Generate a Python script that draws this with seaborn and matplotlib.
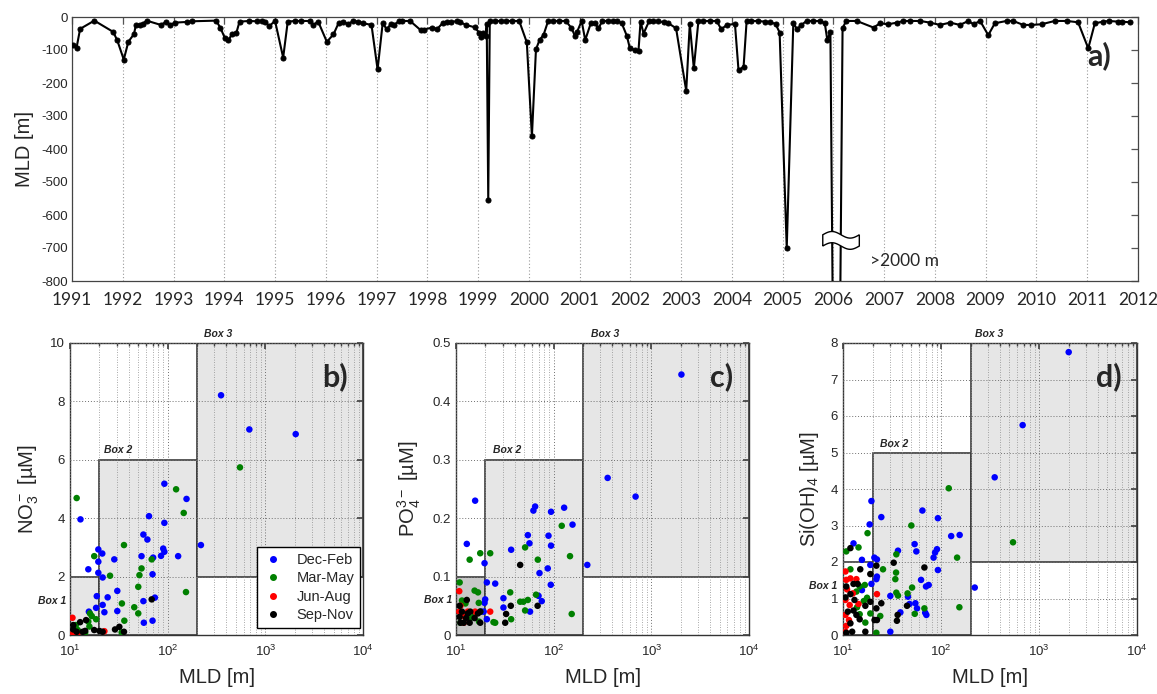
import numpy as np
import pandas as pd
import matplotlib
matplotlib.use("Agg")
import matplotlib.pyplot as plt
import seaborn as sns
from matplotlib.patches import Rectangle, Polygon
from matplotlib.lines import Line2D
from matplotlib.ticker import LogLocator, NullFormatter

# ---------------- data: panel a (MLD time series) ----------------
years = [1991.01, 1991.09, 1991.16, 1991.44, 1991.81, 1991.89, 1992.02, 1992.11, 1992.22, 1992.26,
         1992.34, 1992.39, 1992.47, 1992.75, 1992.85, 1992.93, 1993.03, 1993.26, 1993.36, 1993.84,
         1993.92, 1994.01, 1994.08, 1994.16, 1994.24, 1994.30, 1994.49, 1994.64, 1994.74, 1994.80,
         1994.89, 1995.00, 1995.16, 1995.25, 1995.39, 1995.52, 1995.69, 1995.75, 1995.85, 1996.02,
         1996.15, 1996.25, 1996.34, 1996.44, 1996.54, 1996.64, 1996.74, 1996.90, 1997.02, 1997.12,
         1997.20, 1997.28, 1997.34, 1997.45, 1997.50, 1997.66, 1997.87, 1997.93, 1998.10, 1998.19,
         1998.31, 1998.38, 1998.46, 1998.58, 1998.64, 1998.76, 1998.93, 1999.02, 1999.06, 1999.10,
         1999.15, 1999.17, 1999.20, 1999.23, 1999.33, 1999.46, 1999.54, 1999.67, 1999.81, 1999.96,
         2000.06, 2000.14, 2000.21, 2000.29, 2000.38, 2000.48, 2000.59, 2000.73, 2000.84, 2000.91,
         2000.95, 2001.04, 2001.11, 2001.22, 2001.30, 2001.37, 2001.45, 2001.55, 2001.66, 2001.74,
         2001.83, 2001.93, 2001.99, 2002.09, 2002.16, 2002.20, 2002.26, 2002.37, 2002.45, 2002.55,
         2002.66, 2002.75, 2002.90, 2003.10, 2003.17, 2003.25, 2003.34, 2003.44, 2003.56, 2003.70,
         2003.79, 2003.90, 2004.06, 2004.13, 2004.23, 2004.29, 2004.37, 2004.52, 2004.65, 2004.76,
         2004.86, 2004.94, 2005.08, 2005.21, 2005.28, 2005.37, 2005.47, 2005.60, 2005.74, 2005.83,
         2005.88, 2005.94, 2006.06, 2006.18, 2006.25, 2006.46, 2006.79, 2006.92, 2007.08, 2007.25,
         2007.38, 2007.51, 2007.71, 2007.90, 2008.10, 2008.30, 2008.49, 2008.66, 2008.76, 2008.89,
         2009.05, 2009.18, 2009.41, 2009.54, 2009.74, 2009.90, 2010.10, 2010.36, 2010.60, 2010.82,
         2011.02, 2011.15, 2011.32, 2011.42, 2011.61, 2011.68, 2011.84]
mld = [-85, -93, -36, -11, -45, -70, -129, -75, -52, -24,
       -24, -21, -11, -24, -15, -24, -17, -15, -13, -11,
       -32, -63, -70, -50, -47, -14, -12, -13, -11, -16,
       -27, -12, -123, -14, -12, -12, -12, -24, -14, -75,
       -53, -19, -15, -21, -12, -14, -19, -24, -159, -19,
       -37, -22, -24, -12, -12, -12, -40, -38, -32, -37,
       -17, -15, -16, -12, -15, -24, -31, -47, -60, -47,
       -58, -21, -554, -12, -12, -12, -12, -12, -12, -77,
       -362, -98, -70, -54, -12, -12, -12, -12, -34, -58,
       -45, -12, -70, -19, -19, -34, -12, -12, -12, -12,
       -19, -57, -95, -100, -102, -14, -50, -12, -12, -13,
       -16, -19, -34, -224, -21, -156, -12, -12, -12, -12,
       -37, -24, -21, -161, -151, -12, -12, -12, -14, -16,
       -21, -47, -700, -17, -37, -24, -12, -12, -12, -19,
       -70, -45, -2200, -34, -12, -12, -32, -19, -22, -17,
       -12, -12, -12, -17, -24, -17, -24, -12, -22, -12,
       -55, -19, -12, -12, -24, -24, -22, -12, -12, -16,
       -95, -19, -14, -12, -14, -14, -16]
year_ticks = list(range(1991, 2013))
depth_ticks = list(range(-800, 1, 100))

# ---------------- data: panels b-d  (MLD [m], concentration [uM]) ----------------
seasons = ["Dec-Feb", "Mar-May", "Jun-Aug", "Sep-Nov"]
season_colors = ["#0000ff", "#008000", "#ff0000", "#000000"]

NO3_DJF = [(352, 8.21), (686, 7.04), (2046, 6.88), (219, 3.08), (92.5, 5.18), (156, 4.66), (92.5, 3.84),
           (64.4, 4.07), (56.4, 3.44), (62, 3.27), (90, 2.96), (92.5, 2.85), (85.5, 2.71), (128, 2.70),
           (54, 2.70), (71, 2.65), (70, 2.08), (28.4, 2.59), (19.5, 2.93), (21.4, 2.79), (19.5, 2.51),
           (19.5, 2.13), (21.6, 1.97), (15.4, 2.25), (12.8, 3.96), (18.8, 1.33), (24.3, 1.29),
           (30.5, 1.51), (74, 1.28), (56.4, 1.16), (21.6, 1.03), (18.5, 0.93), (22.5, 0.78),
           (30.5, 0.82), (15.6, 0.80), (70, 0.49), (57, 0.42)]
NO3_MAM = [(550, 5.74), (122, 4.99), (146, 4.18), (154, 1.47), (11.7, 4.69), (35.7, 3.08), (68.6, 2.59),
           (54, 2.28), (51.4, 2.05), (25.7, 2.03), (17.7, 2.70), (50, 1.65), (34, 1.08), (45.5, 0.95),
           (50, 0.74), (36, 0.49), (16, 0.74), (16.7, 0.65), (18.5, 0.54), (15.4, 0.46), (15.8, 0.29),
           (14.3, 0.08), (12, 0.17), (11.5, 0.34), (33.8, 0.09)]
NO3_JJA = [(10.6, 0.59), (11.2, 0.09), (10.8, 0.06), (11.9, 0.05), (22.5, 0.13)]
NO3_SON = [(68.6, 1.22), (10.8, 0.34), (12.7, 0.44), (14.6, 0.51), (10.8, 0.19), (13.5, 0.11),
           (14.3, 0.14), (17.7, 0.17), (20, 0.14), (21.6, 0.11), (28.9, 0.19), (32, 0.28),
           (35.7, 0.11), (11.7, 0.11)]

PO4_DJF = [(2033, 0.446), (357, 0.269), (690, 0.237), (221, 0.120), (15.7, 0.230), (12.9, 0.156),
           (19.6, 0.123), (64.6, 0.220), (62, 0.213), (94, 0.211), (128, 0.218), (156, 0.189),
           (54.4, 0.171), (56.5, 0.157), (36.7, 0.146), (88.5, 0.170), (94, 0.153), (87, 0.114),
           (71.6, 0.106), (93.4, 0.086), (20.7, 0.090), (25.2, 0.088), (70, 0.067), (75.5, 0.058),
           (30.6, 0.063), (30.6, 0.047), (19.9, 0.061), (19.6, 0.055), (19.2, 0.040), (18.2, 0.040),
           (57.3, 0.040), (20.7, 0.027)]
PO4_MAM = [(121, 0.187), (147, 0.135), (153, 0.036), (51, 0.150), (68.8, 0.129), (22.4, 0.140),
           (17.7, 0.140), (13.8, 0.129), (10.9, 0.090), (35.9, 0.073), (66, 0.069), (45.4, 0.057),
           (49, 0.057), (54.4, 0.060), (51, 0.042), (36.7, 0.027), (15.5, 0.076), (16.8, 0.073),
           (17.1, 0.055), (12.5, 0.054), (11.5, 0.059), (12.9, 0.034), (15.5, 0.034), (24.2, 0.022),
           (25.2, 0.021), (17.2, 0.023), (14, 0.029), (11.1, 0.021), (17.7, 0.040)]
PO4_JJA = [(10.8, 0.075), (10.8, 0.040), (11.5, 0.033), (12.5, 0.031), (22.4, 0.040), (12, 0.021),
           (13.2, 0.040), (15.7, 0.040), (11.1, 0.050)]
PO4_SON = [(45.4, 0.120), (32.6, 0.036), (36.4, 0.050), (68.5, 0.050), (31.9, 0.021), (12.9, 0.060),
           (10.9, 0.050), (10.9, 0.031), (11.5, 0.040), (13.2, 0.037), (14, 0.040), (17.7, 0.040),
           (16.8, 0.037), (12, 0.021), (13.8, 0.021), (15.5, 0.029), (17.7, 0.021), (11.1, 0.021),
           (12.7, 0.029)]

SI_DJF = [(2009, 7.75), (681, 5.75), (353, 4.32), (221, 1.30), (19.5, 3.67), (18.7, 3.03), (24.6, 3.23),
          (64.6, 3.41), (93, 3.20), (127, 2.71), (155, 2.74), (53.8, 2.49), (56, 2.29), (91, 2.35),
          (87, 2.26), (84, 2.12), (93, 1.78), (36.4, 2.31), (20.9, 2.12), (22.2, 2.07), (15.6, 2.06),
          (12.8, 2.51), (22.2, 1.60), (21.9, 1.53), (19.5, 1.40), (19.0, 1.92), (15.6, 1.23),
          (62.6, 1.51), (74.9, 1.37), (70.3, 1.33), (46, 1.05), (30.4, 1.07), (54.8, 0.87),
          (56.9, 0.73), (47.8, 0.85), (38.5, 0.62), (69, 0.61), (70.9, 0.55), (30.4, 0.09)]
SI_MAM = [(120, 4.02), (146, 2.12), (154, 0.76), (543, 2.54), (49.8, 3.00), (35, 2.21), (10.8, 2.29),
          (14.4, 2.40), (17.8, 2.79), (25.6, 1.80), (34.8, 1.71), (34.2, 1.53), (35, 1.16),
          (36.4, 1.08), (50.7, 1.30), (45.6, 1.14), (67.7, 0.73), (54, 0.58), (24, 0.52), (21.9, 0.06),
          (11.9, 1.80), (13.7, 1.19), (14.8, 1.33), (16.7, 1.37), (17.6, 1.02), (13.9, 0.76),
          (16.3, 0.93), (19, 0.59), (14.8, 0.57), (16.9, 0.34)]
SI_JJA = [(10.6, 1.74), (10.8, 1.51), (11, 1.25), (11.9, 1.55), (13.7, 1.53), (10.6, 0.96), (11.7, 0.82),
          (14.4, 0.85), (10.6, 0.55), (10.8, 0.25), (10.6, 0.09), (22.2, 1.12), (12.6, 1.14),
          (11.5, 0.41)]
SI_SON = [(11.9, 2.38), (32.9, 1.98), (67.7, 1.85), (15, 1.80), (19, 1.67), (21.9, 1.90), (12.8, 1.40),
          (14.1, 1.40), (10.8, 1.33), (10.6, 1.03), (11.9, 1.12), (13.1, 0.96), (19, 0.91), (24.6, 0.87),
          (16.9, 0.80), (21.9, 0.73), (45, 0.80), (11.2, 0.64), (12.8, 0.67), (13.7, 0.55), (14.8, 0.43),
          (21, 0.41), (22.2, 0.41), (36.1, 0.55), (35.5, 0.39), (11.9, 0.32), (12.4, 0.09), (16.9, 0.09),
          (10.8, 0.06)]

# ---------------- style ----------------
sns.set_theme(style="white")
plt.rcParams["font.family"] = ["Liberation Sans", "DejaVu Sans"]
plt.rcParams["axes.unicode_minus"] = False
plt.rcParams["mathtext.fontset"] = "custom"
plt.rcParams["mathtext.rm"] = "Liberation Sans"
plt.rcParams["mathtext.it"] = "Liberation Sans:italic"
plt.rcParams["mathtext.bf"] = "Liberation Sans:bold"
plt.rcParams["mathtext.default"] = "regular"

W, H = 1157, 694
fig = plt.figure(figsize=(W / 100, H / 100), dpi=100)
fig.patch.set_facecolor("white")


def px_rect(l, t, r, b):
    return [l / W, 1 - b / H, (r - l) / W, (b - t) / H]


# ---------------- panel a ----------------
ax = fig.add_axes(px_rect(72, 17, 1138, 281))
ax.set_facecolor("white")
ax.set_xlim(1991, 2012)
ax.set_ylim(-800, 0)
ax.grid(True, axis="x", ls=(0, (1, 2)), color="#9a9a9a", lw=0.8)
ax.set_axisbelow(True)
sns.lineplot(x=years, y=mld, ax=ax, color="black", lw=1.5, marker="o", markersize=3.6,
             markeredgecolor="black", sort=False, estimator=None, zorder=3)
ax.set_xticks(year_ticks)
ax.set_yticks(depth_ticks)
ax.set_yticklabels([str(v) for v in depth_ticks])
ax.tick_params(direction="in", top=True, right=True, length=5, width=0.9, color="#555555")
ax.tick_params(axis="x", labelsize=12.5, pad=8)
ax.tick_params(axis="y", labelsize=9.5, pad=3)
for lbl in ax.get_xticklabels():
    lbl.set_family("Lato")
ax.set_ylabel("MLD [m]", fontsize=14.5, labelpad=5)
ax.set_xlabel("")
for s in ax.spines.values():
    s.set_color("#444444")
    s.set_linewidth(0.9)

# axis-break symbol over the >2000 m cast
t = np.linspace(0, 1, 40)
bx = 2005.79 + t * 0.72
top = -660 + 10 * np.sin(2 * np.pi * t)
bot = -694 + 10 * np.sin(2 * np.pi * t)
poly = np.vstack([np.column_stack([bx, top]), np.column_stack([bx[::-1], bot[::-1]])])
ax.add_patch(Polygon(poly, closed=True, facecolor="white", edgecolor="black", lw=1.0, zorder=6))
ax.text(2006.72, -740, ">2000 m", fontsize=12.5, family="Lato", ha="left", va="center")
ax.text(0.964, 0.855, "a)", transform=ax.transAxes, fontsize=22, fontweight="bold",
        family="Lato", ha="center", va="center")


# ---------------- panels b-d ----------------
def panel(rect, groups, boxes, ylim, yticks, yticklabels, ylabel, letter, boxlabels, legend=False):
    a = fig.add_axes(rect)
    a.set_facecolor("white")
    a.set_xscale("log")
    a.set_xlim(10, 1e4)
    a.set_ylim(*ylim)
    for (x0, x1, y0, y1, fc) in boxes:
        a.add_patch(Rectangle((x0, y0), x1 - x0, y1 - y0, facecolor=fc, edgecolor="#3c3c3c",
                              lw=1.2, zorder=1))
    rows = []
    for season, pts in zip(seasons, groups):
        for m, v in pts:
            rows.append((m, v, season))
    df = pd.DataFrame(rows, columns=["MLD", "val", "season"])
    sns.scatterplot(data=df, x="MLD", y="val", hue="season", hue_order=seasons,
                    palette=dict(zip(seasons, season_colors)), s=22, edgecolor="none",
                    ax=a, legend=False, zorder=4)
    a.set_axisbelow(False)
    a.grid(True, which="major", ls=(0, (1, 2)), color="#707070", lw=0.7)
    a.grid(True, which="minor", axis="x", ls=(0, (1, 2)), color="#8c8c8c", lw=0.6)
    a.xaxis.set_major_locator(LogLocator(base=10, numticks=10))
    a.xaxis.set_minor_locator(LogLocator(base=10, subs=np.arange(2, 10), numticks=20))
    a.xaxis.set_minor_formatter(NullFormatter())
    a.set_yticks(yticks)
    a.set_yticklabels(yticklabels)
    a.tick_params(which="both", direction="in", top=True, right=True, color="#444444")
    a.tick_params(which="major", length=4, labelsize=9.5)
    a.tick_params(axis="x", which="major", pad=6)
    a.tick_params(which="minor", length=2)
    a.set_xlabel("MLD [m]", fontsize=14.5, labelpad=7)
    a.set_ylabel(ylabel, fontsize=14.5, labelpad=7)
    for s in a.spines.values():
        s.set_color("#333333")
        s.set_linewidth(1.0)
    for (bx_, by_, txt) in boxlabels:
        a.text(bx_, by_, txt, fontsize=7.5, fontstyle="italic", fontweight="bold",
               ha="center", va="center", clip_on=False)
    a.text(0.905, 0.885, letter, transform=a.transAxes, fontsize=22, fontweight="bold",
           family="Lato", ha="center", va="center", zorder=6)
    if legend:
        handles = [Line2D([], [], ls="none", marker="o", markersize=4, color=c, markeredgecolor=c)
                   for c in season_colors]
        lg = a.legend(handles, seasons, loc="lower right", bbox_to_anchor=(0.99, 0.024),
                      frameon=True, fancybox=False, edgecolor="black", framealpha=1,
                      fontsize=10.5, handletextpad=0.9, borderpad=0.4, labelspacing=0.3,
                      handlelength=1.4, borderaxespad=0.0)
        lg.get_frame().set_linewidth(1.0)
        lg.set_zorder(7)
    return a


panel(px_rect(70, 343, 363, 635), [NO3_DJF, NO3_MAM, NO3_JJA, NO3_SON],
      [(10, 20, 0, 2, "#e6e6e6"), (20, 200, 0, 6, "#e6e6e6"), (200, 1e4, 2, 10, "#e6e6e6")],
      (0, 10), [0, 2, 4, 6, 8, 10], ["0", "2", "4", "6", "8", "10"],
      "NO$_3^-$ [µM]", "b)",
      [(6.5, 1.17, "Box 1"), (31, 6.35, "Box 2"), (330, 10.3, "Box 3")], legend=True)

panel(px_rect(456, 343, 749, 635), [PO4_DJF, PO4_MAM, PO4_JJA, PO4_SON],
      [(10, 20, 0, 0.1, "#c8c8c8"), (20, 200, 0, 0.3, "#e6e6e6"), (200, 1e4, 0.1, 0.5, "#e6e6e6")],
      (0, 0.5), [0, 0.1, 0.2, 0.3, 0.4, 0.5], ["0", "0.1", "0.2", "0.3", "0.4", "0.5"],
      "PO$_4^{3-}$ [µM]", "c)",
      [(6.6, 0.06, "Box 1"), (33, 0.316, "Box 2"), (335, 0.515, "Box 3")])

panel(px_rect(843, 343, 1137, 635), [SI_DJF, SI_MAM, SI_JJA, SI_SON],
      [(10, 20, 0, 2, "white"), (20, 200, 0, 5, "#e6e6e6"), (200, 1e4, 2, 8, "#e6e6e6")],
      (0, 8), [0, 1, 2, 3, 4, 5, 6, 7, 8], [str(v) for v in range(9)],
      "Si(OH)$_4$ [µM]", "d)",
      [(6.2, 1.33, "Box 1"), (33, 5.22, "Box 2"), (311, 8.25, "Box 3")])

fig.savefig("out.png", dpi=100, facecolor="white")
